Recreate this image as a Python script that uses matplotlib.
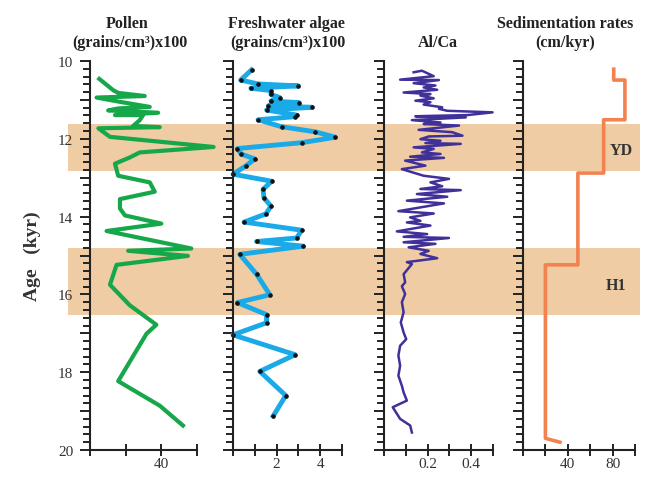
import matplotlib
matplotlib.use("Agg")
import matplotlib.pyplot as plt
from matplotlib.ticker import FixedLocator, MultipleLocator, FixedFormatter

plt.rcParams['font.family'] = ['Liberation Serif', 'DejaVu Serif']

# ---- data ----
pollen_age = [10.46, 10.75, 10.82, 10.90, 10.94, 11.05, 11.18, 11.22, 11.27, 11.33,
              11.39, 11.39, 11.52, 11.67, 11.70, 11.73, 11.95, 12.21, 12.35, 12.48,
              12.64, 12.95, 13.12, 13.36, 13.55, 13.79, 13.97, 14.18, 14.37, 14.82,
              14.88, 15.01, 15.24, 15.75, 16.28, 16.78, 17.01, 18.23, 18.86, 19.37]
pollen_val = [5.2, 13.0, 15.8, 30.7, 3.7, 16.8, 33.5, 15.8, 10.2, 38.2,
              14.0, 29.8, 27.9, 24.2, 39.1, 4.7, 11.2, 69.3, 27.9, 22.3,
              14.0, 15.8, 33.5, 36.3, 16.8, 16.8, 19.6, 40.0, 9.3, 56.8,
              21.4, 54.9, 14.9, 11.2, 22.3, 37.2, 31.7, 15.8, 39.1, 52.1]

algae_age = [10.23, 10.49, 10.59, 10.64, 10.70, 10.76, 10.86, 10.94, 11.03, 11.07,
             11.15, 11.19, 11.26, 11.39, 11.43, 11.51, 11.69, 11.82, 11.96, 12.10,
             12.25, 12.39, 12.52, 12.70, 12.91, 13.09, 13.30, 13.52, 13.73, 13.93,
             14.14, 14.35, 14.55, 14.64, 14.76, 14.97, 15.48, 16.01, 16.21, 16.52,
             16.73, 17.04, 17.55, 17.98, 18.60, 19.12]
algae_val = [0.85, 0.35, 1.15, 3.00, 0.82, 1.74, 1.74, 2.15, 1.74, 3.03,
             1.62, 3.62, 1.54, 2.92, 2.85, 1.15, 2.23, 3.77, 4.69, 3.15,
             0.20, 0.38, 1.00, 0.58, 0.00, 1.77, 1.38, 1.42, 1.74, 1.51,
             0.51, 3.15, 2.92, 1.08, 3.23, 0.31, 1.08, 1.69, 0.20, 1.54,
             1.54, 0.00, 2.85, 1.23, 2.42, 1.85]

alca_age = [10.29, 10.25, 10.39, 10.48, 10.49, 10.57, 10.63, 10.68, 10.74, 10.81,
            10.85, 10.89, 10.96, 11.02, 11.06, 11.12, 11.19, 11.23, 11.28, 11.32,
            11.39, 11.42, 11.45, 11.52, 11.58, 11.62, 11.66, 11.77, 11.83, 11.92,
            11.94, 12.01, 12.05, 12.11, 12.13, 12.22, 12.26, 12.35, 12.39, 12.46,
            12.49, 12.56, 12.69, 12.78, 12.95, 13.03, 13.12, 13.22, 13.29, 13.32,
            13.42, 13.49, 13.59, 13.66, 13.86, 13.92, 14.02, 14.11, 14.15, 14.23,
            14.38, 14.45, 14.52, 14.55, 14.66, 14.70, 14.79, 14.88, 14.96, 15.07,
            15.17, 15.22, 15.48, 15.69, 15.79, 15.99, 16.20, 16.46, 16.72, 16.98,
            17.15, 17.32, 17.57, 17.83, 18.09, 18.35, 18.52, 18.73, 18.90, 19.20,
            19.37, 19.55]
alca_val = [0.136, 0.174, 0.228, 0.074, 0.252, 0.136, 0.236, 0.182, 0.244, 0.090,
            0.213, 0.167, 0.228, 0.144, 0.213, 0.182, 0.267, 0.252, 0.290, 0.498,
            0.383, 0.144, 0.375, 0.128, 0.259, 0.182, 0.344, 0.159, 0.313, 0.360,
            0.205, 0.167, 0.259, 0.190, 0.352, 0.136, 0.228, 0.174, 0.259, 0.120,
            0.275, 0.097, 0.190, 0.082, 0.182, 0.298, 0.213, 0.267, 0.167, 0.352,
            0.151, 0.290, 0.105, 0.275, 0.066, 0.228, 0.120, 0.167, 0.105, 0.213,
            0.059, 0.198, 0.090, 0.298, 0.090, 0.236, 0.113, 0.205, 0.167, 0.244,
            0.105, 0.128, 0.090, 0.097, 0.082, 0.097, 0.082, 0.090, 0.077, 0.090,
            0.102, 0.074, 0.066, 0.074, 0.066, 0.082, 0.090, 0.105, 0.040, 0.074,
            0.120, 0.128]

sed_age = [10.21, 10.49, 10.49, 11.51, 11.51, 12.88, 12.88, 15.24, 15.24, 19.70, 19.80]
sed_rate = [81, 81, 91, 91, 72, 72, 49, 49, 20, 20, 33]

bands = [(11.62, 12.83), (14.80, 16.53)]
band_names = ['YD', 'H1']
band_label_x = [88, 83]
band_label_y = [12.3, 15.75]

# ---- layout ----
W, H = 645, 489
fig = plt.figure(figsize=(W / 100, H / 100), dpi=100)
bottom, height = 38 / H, 389 / H

bg = fig.add_axes([68 / W, bottom, 572 / W, height], zorder=0)
bg.set_ylim(20, 10)
bg.axis('off')
for y0, y1 in bands:
    bg.axhspan(y0, y1, color='#EFCCA3', lw=0)

panels = [
    dict(left=90, width=107, xlim=(0, 60), ticks=[0, 20, 40, 60],
         labels=['', '', '40', '']),
    dict(left=233, width=109, xlim=(0, 5), ticks=[0, 1, 2, 3, 4, 5],
         labels=['', '', '2', '', '4', '']),
    dict(left=384, width=109, xlim=(0, 0.5), ticks=[0, 0.1, 0.2, 0.3, 0.4, 0.5],
         labels=['', '', '0.2', '', '0.4', '']),
    dict(left=523, width=112, xlim=(0, 100), ticks=[0, 20, 40, 60, 80, 100],
         labels=['', '', '40', '', '80', '']),
]

# title lines: (x center px, baseline px, text)
titles = [
    (127, 28, 'Pollen'), (130, 47, '(grains/cm³)x100'),
    (286, 28, 'Freshwater algae'), (288, 47, '(grains/cm³)x100'),
    (438, 47, 'Al/Ca'),
    (565, 28, 'Sedimentation rates'), (565, 47, '(cm/kyr)'),
]

axes = []
for i, p in enumerate(panels):
    ax = fig.add_axes([p['left'] / W, bottom, p['width'] / W, height], zorder=1)
    ax.patch.set_visible(False)
    ax.set_ylim(20, 10)
    ax.set_xlim(*p['xlim'])
    for s in ['top', 'right']:
        ax.spines[s].set_visible(False)
    for s in ['left', 'bottom']:
        ax.spines[s].set_linewidth(1.5)
        ax.spines[s].set_color('#222222')
    ax.yaxis.set_major_locator(FixedLocator(list(range(10, 21))))
    ax.yaxis.set_minor_locator(MultipleLocator(0.2))
    if i == 0:
        ax.yaxis.set_major_formatter(FixedFormatter(
            [str(v) if v % 2 == 0 else '' for v in range(10, 21)]))
    else:
        ax.yaxis.set_major_formatter(FixedFormatter([''] * 11))
    ax.xaxis.set_major_locator(FixedLocator(p['ticks']))
    ax.xaxis.set_major_formatter(FixedFormatter(p['labels']))
    ax.tick_params(axis='y', which='major', direction='out', length=7, width=1.4,
                   color='#222222', labelsize=11, labelcolor='#333333', pad=5)
    ax.tick_params(axis='y', which='minor', direction='out', length=5, width=1.4,
                   color='#222222')
    ax.tick_params(axis='x', which='major', direction='inout', length=8, width=1.4,
                   color='#222222', labelsize=11, labelcolor='#333333', pad=1)
    axes.append(ax)

for x, y, t in titles:
    fig.text(x / W, 1 - y / H, t, fontsize=11.5, fontweight='bold', color='#222222',
             ha='center', va='baseline')

axes[0].set_ylabel('Age   (kyr)', fontsize=14, fontweight='bold', color='#333333',
                   labelpad=12)

axes[0].plot(pollen_val, pollen_age, color='#17A74B', lw=3, clip_on=False)
axes[1].plot(algae_val, algae_age, color='#1AAAE8', lw=3.5, clip_on=False,
             marker='o', ms=2.3, mfc='#111111', mec='#111111')
axes[2].plot(alca_val, alca_age, color='#40309A', lw=1.8, clip_on=False)
axes[3].plot(sed_rate, sed_age, color='#F28250', lw=2.6, clip_on=False)

for name, bx, by in zip(band_names, band_label_x, band_label_y):
    axes[3].text(bx, by, name, fontsize=11.5, fontweight='bold', color='#333333',
                 ha='center', va='center')

fig.savefig('out.png', dpi=100)
